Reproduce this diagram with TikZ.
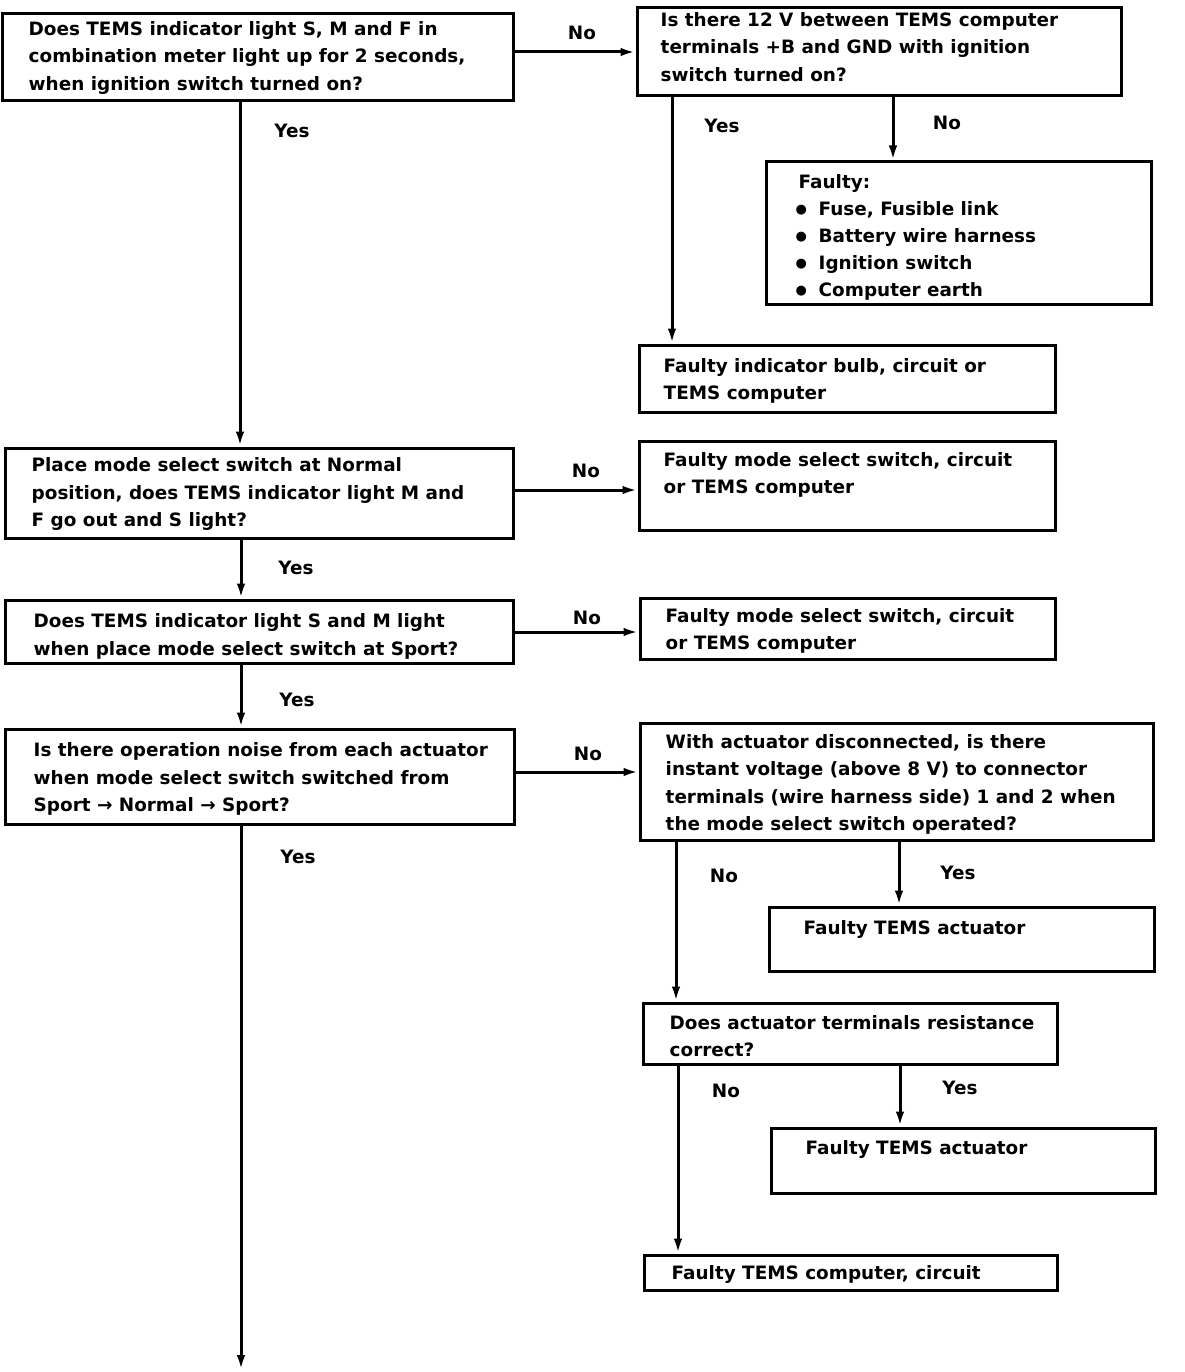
\documentclass[tikz,border=0pt]{standalone}
\usepackage{fontspec}
\setmainfont{DejaVu Sans}
\usetikzlibrary{arrows.meta}
\newcommand{\itembul}{\makebox[23pt][l]{\raisebox{1.8pt}{\fontsize{13}{13}\selectfont ●}}}
\begin{document}
\begin{tikzpicture}[x=1pt,y=-1pt,
  box/.style={draw, line width=3pt, inner sep=0pt},
  txt/.style={anchor=west, align=left, inner sep=0pt, font=\fontsize{18.4}{27.5}\selectfont\bfseries},
  lbl/.style={inner sep=0pt, font=\fontsize{18.4}{23}\selectfont\bfseries},
  arr/.style={line width=3pt, -{Latex[length=15pt,width=8.5pt]}}]
\useasboundingbox (0,0) rectangle (1184,1372);
% boxes
\node[box, minimum width=511, minimum height=87] (b1) at (257.5,57.5) {};
\node[box, minimum width=484, minimum height=88] (b2) at (879,52) {};
\node[box, minimum width=385, minimum height=142] (b3) at (958.5,233) {};
\node[box, minimum width=416, minimum height=67] (b4) at (847,378.5) {};
\node[box, minimum width=508, minimum height=90] (b5) at (259,493) {};
\node[box, minimum width=416, minimum height=89] (b6) at (847,485.5) {};
\node[box, minimum width=508, minimum height=63] (b7) at (259,631.5) {};
\node[box, minimum width=415, minimum height=61] (b8) at (847.5,628.5) {};
\node[box, minimum width=509, minimum height=95] (b9) at (259.5,776.5) {};
\node[box, minimum width=513, minimum height=117] (b10) at (896.5,781.5) {};
\node[box, minimum width=385, minimum height=64] (b11) at (961.5,939) {};
\node[box, minimum width=414, minimum height=61] (b12) at (850,1033.5) {};
\node[box, minimum width=384, minimum height=65] (b13) at (963,1160.5) {};
\node[box, minimum width=413, minimum height=35] (b14) at (850.5,1272.5) {};
% texts
\node[txt, yshift=0pt] (t1) at ([xshift=28pt]b1.west) {Does TEMS indicator light S, M and F in\\combination meter light up for 2 seconds,\\when ignition switch turned on?};
\node[txt, yshift=5pt] (t2) at ([xshift=25pt]b2.west) {Is there 12 V between TEMS computer\\terminals +B and GND with ignition\\switch turned on?};
\node[txt, yshift=-4.5pt, font=\fontsize{18.4}{26.8}\selectfont\bfseries] (t3) at ([xshift=31pt]b3.west) {\hspace*{3pt}Faulty:\\\itembul Fuse, Fusible link\\\itembul Battery wire harness\\\itembul Ignition switch\\\itembul Computer earth};
\node[txt, yshift=-2.5pt] (t4) at ([xshift=26pt]b4.west) {Faulty indicator bulb, circuit or\\TEMS computer};
\node[txt, yshift=-1pt] (t5) at ([xshift=28pt]b5.west) {Place mode select switch at Normal\\position, does TEMS indicator light M and\\F go out and S light?};
\node[txt, yshift=10.5pt] (t6) at ([xshift=26pt]b6.west) {Faulty mode select switch, circuit\\or TEMS computer};
\node[txt, yshift=-5pt] (t7) at ([xshift=30pt]b7.west) {Does TEMS indicator light S and M light\\when place mode select switch at Sport?};
\node[txt, yshift=-2.5pt] (t8) at ([xshift=27pt]b8.west) {Faulty mode select switch, circuit\\or TEMS computer};
\node[txt, yshift=-2.5pt] (t9) at ([xshift=30pt]b9.west) {Is there operation noise from each actuator\\when mode select switch switched from\\Sport → Normal → Sport?};
\node[txt, yshift=-3pt] (t10) at ([xshift=27pt]b10.west) {With actuator disconnected, is there\\instant voltage (above 8 V) to connector\\terminals (wire harness side) 1 and 2 when\\the mode select switch operated?};
\node[txt, yshift=10pt] (t11) at ([xshift=36pt]b11.west) {Faulty TEMS actuator};
\node[txt, yshift=-2.5pt] (t12) at ([xshift=28pt]b12.west) {Does actuator terminals resistance\\correct?};
\node[txt, yshift=11pt] (t13) at ([xshift=36pt]b13.west) {Faulty TEMS actuator};
\node[txt, yshift=-2pt] (t14) at ([xshift=29pt]b14.west) {Faulty TEMS computer, circuit};
% connector coordinates
\coordinate (y1) at (240,101);
\coordinate (c2y) at (672,96);
\coordinate (c2n) at (893,96);
\coordinate (n5) at (513,490);
\coordinate (y5) at (241,538);
\coordinate (n7) at (513,632);
\coordinate (y7) at (241,663);
\coordinate (n9) at (514,772);
\coordinate (y9) at (241,824);
\coordinate (end) at (241,1370);
\coordinate (c10n) at (676,840);
\coordinate (c10y) at (899,840);
\coordinate (c12n) at (678,1064);
\coordinate (c12y) at (900,1064);
% connectors
\draw[arr] (b2.west -| b1.east) -- (b2.west);
\draw[arr] (y1) -- (y1 |- b5.north);
\draw[arr] (c2y) -- (c2y |- b4.north);
\draw[arr] (c2n) -- (c2n |- b3.north);
\draw[arr] (n5) -- (n5 -| b6.west);
\draw[arr] (y5) -- (y5 |- b7.north);
\draw[arr] (n7) -- (n7 -| b8.west);
\draw[arr] (y7) -- (y7 |- b9.north);
\draw[arr] (n9) -- (n9 -| b10.west);
\draw[arr] (y9) -- (end);
\draw[arr] (c10n) -- (c10n |- b12.north);
\draw[arr] (c10y) -- (c10y |- b11.north);
\draw[arr] (c12n) -- (c12n |- b14.north);
\draw[arr] (c12y) -- (c12y |- b13.north);
% labels
\node[lbl] (l1) at (582,33) {No};
\node[lbl] (l2) at (292,131) {Yes};
\node[lbl] (l3) at (722,126) {Yes};
\node[lbl] (l4) at (947,123) {No};
\node[lbl] (l5) at (586,471) {No};
\node[lbl] (l6) at (296,568) {Yes};
\node[lbl] (l7) at (587,618) {No};
\node[lbl] (l8) at (297,700) {Yes};
\node[lbl] (l9) at (588,754) {No};
\node[lbl] (l10) at (298,857) {Yes};
\node[lbl] (l11) at (724,876) {No};
\node[lbl] (l12) at (958,873) {Yes};
\node[lbl] (l13) at (726,1091) {No};
\node[lbl] (l14) at (960,1088) {Yes};
\end{tikzpicture}
\end{document}
